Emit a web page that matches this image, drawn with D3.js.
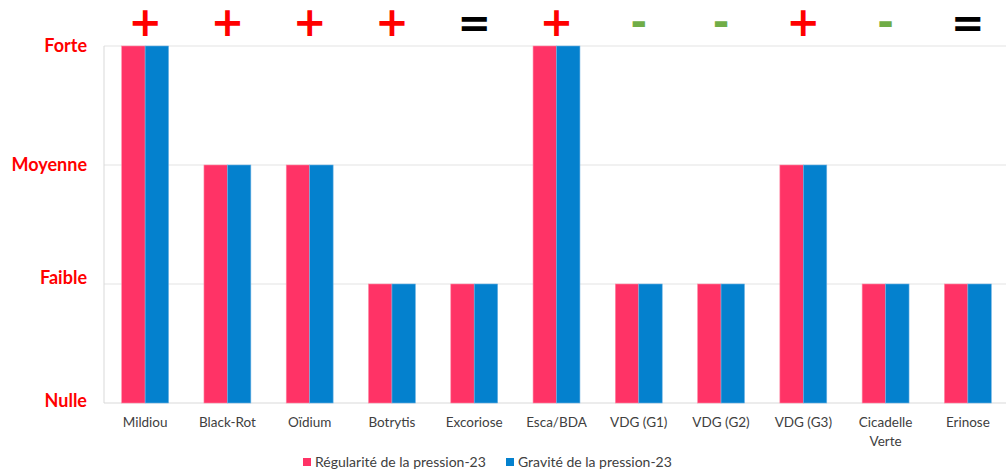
<!DOCTYPE html>
<html><head><meta charset="utf-8">
<script src="https://cdn.jsdelivr.net/npm/d3@7"></script>
<style>body{margin:0;background:#fff}svg{display:block}</style>
</head><body>
<svg id="c" width="1006" height="473"></svg>
<script>
const categories = ["Mildiou","Black-Rot","Oïdium","Botrytis","Excoriose","Esca/BDA","VDG (G1)","VDG (G2)","VDG (G3)","Cicadelle Verte","Erinose"];
const regularite = [3,2,2,1,1,3,1,1,2,1,1];
const gravite    = [3,2,2,1,1,3,1,1,2,1,1];
const trends     = ["+","+","+","+","=","+","-","-","+","-","="];
const levelLabels = ["Nulle","Faible","Moyenne","Forte"];
const seriesNames = ["Régularité de la pression-23","Gravité de la pression-23"];
const seriesColors = ["#FF3366","#0481CE"];

const svg = d3.select("#c");
const m = {l:104, r:1006, t:46, b:403};
const x = d3.scaleBand().domain(categories).range([m.l, 1009]).paddingInner(0.43).paddingOuter(0.215);
const xs = d3.scaleBand().domain([0,1]).range([0, x.bandwidth()]);
const y = d3.scaleLinear().domain([0,3]).range([m.b, m.t]);

// gridlines
svg.append("g").selectAll("line").data([1,2,3]).join("line")
  .attr("x1", m.l).attr("x2", m.r).attr("y1", d=>y(d)).attr("y2", d=>y(d))
  .attr("stroke", "#e3e3e3").attr("stroke-width", 1);
// axes lines
svg.append("line").attr("x1", m.l).attr("x2", m.l).attr("y1", m.t).attr("y2", m.b).attr("stroke","#d9d9d9");
svg.append("line").attr("x1", m.l).attr("x2", m.r).attr("y1", m.b).attr("y2", m.b).attr("stroke","#d9d9d9");

// bars
const series = [regularite, gravite];
series.forEach((vals, si) => {
  svg.append("g").selectAll("rect").data(vals).join("rect")
    .attr("x", (d,i)=> x(categories[i]) + xs(si))
    .attr("width", xs.bandwidth())
    .attr("y", d=>y(d)).attr("height", d=> y(0)-y(d))
    .attr("fill", seriesColors[si])
    .attr("stroke", si===0 ? "#ff8aa6" : "#6fb3e3").attr("stroke-width", 0.6);
});

// y labels (manually placed text boxes in the original; small offsets)
const labelShift = [-2, -6, 0, 0];
svg.append("g").selectAll("text").data(levelLabels).join("text")
  .attr("x", 87).attr("y", (d,i)=>y(i) + labelShift[i]).attr("dy","0.35em")
  .attr("text-anchor","end").attr("fill","#FF0000")
  .attr("font-family","Lato, 'Open Sans', sans-serif").attr("font-weight","bold").attr("font-size",18)
  .text(d=>d);

// x labels
const xl = svg.append("g").attr("font-family","Lato, 'Open Sans', sans-serif").attr("font-size",13.5).attr("fill","#404040");
categories.forEach(c => {
  const cx = x(c) + x.bandwidth()/2;
  const words = c === "Cicadelle Verte" ? ["Cicadelle","Verte"] : [c];
  const t = xl.append("text").attr("x", cx).attr("y", 427).attr("text-anchor","middle");
  words.forEach((w,i)=> t.append("tspan").attr("x", cx).attr("dy", i===0?0:18.5).text(w));
});

// trend symbols
const symStyle = {"+":{c:"#FF0000",dy:36}, "=":{c:"#000000",dy:37}, "-":{c:"#70AD47",dy:36}};
svg.append("g").selectAll("text").data(trends).join("text")
  .attr("x", (d,i)=> x(categories[i]) + x.bandwidth()/2)
  .attr("y", d=>symStyle[d].dy)
  .attr("text-anchor","middle")
  .attr("font-family","'DejaVu Sans', sans-serif").attr("font-weight","bold")
  .attr("font-size", 40)
  .attr("fill", d=>symStyle[d].c)
  .text(d=>d);

// legend
const lg = svg.append("g").attr("font-family","Lato, 'Open Sans', sans-serif").attr("font-size",14).attr("fill","#404040");
const lx = [303, 506];
seriesNames.forEach((n,i)=>{
  lg.append("rect").attr("x", lx[i]).attr("y", 458).attr("width",8).attr("height",8).attr("fill", seriesColors[i]);
  lg.append("text").attr("x", lx[i]+12).attr("y", 462).attr("dy","0.35em").text(n);
});
</script>
</body></html>
